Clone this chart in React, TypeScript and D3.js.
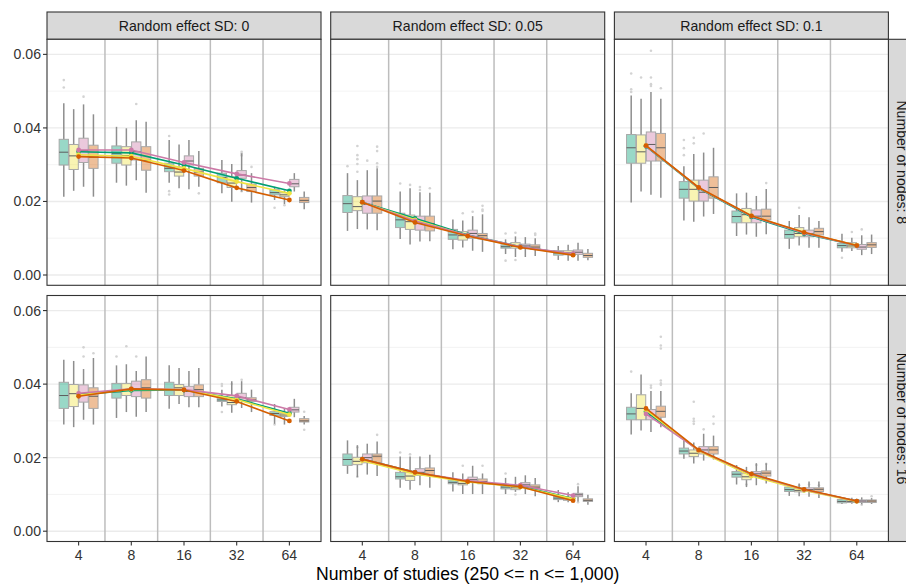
import React from 'react';
import * as d3 from 'd3';

// ---------- data ----------
const studyLabels = ['4', '8', '16', '32', '64'];
const sdLabels = ['0', '0.05', '0.1'];
const nodeLabels = ['8', '16'];
const yMajor = [0, 0.02, 0.04, 0.06];
const yMinor = [0.01, 0.03, 0.05];

// Box rows: [lower whisker, q1, median, q3, upper whisker]; 4 methods per study group, 5 groups.
const boxesSd0Nodes8 = [
  [0.0213, 0.0299, 0.0334, 0.0369, 0.0467], [0.0229, 0.0287, 0.0324, 0.0355, 0.0451], [0.0240, 0.0306, 0.0338, 0.0372, 0.0464], [0.0213, 0.0290, 0.0320, 0.0353, 0.0437],
  [0.0251, 0.0304, 0.0330, 0.0351, 0.0403], [0.0243, 0.0299, 0.0325, 0.0349, 0.0399], [0.0258, 0.0313, 0.0335, 0.0362, 0.0421], [0.0224, 0.0285, 0.0312, 0.0349, 0.0417],
  [0.0251, 0.0281, 0.0290, 0.0304, 0.0367], [0.0236, 0.0269, 0.0280, 0.0294, 0.0355], [0.0233, 0.0299, 0.0310, 0.0324, 0.0367], [0.0240, 0.0269, 0.0280, 0.0290, 0.0337],
  [0.0222, 0.0251, 0.0265, 0.0277, 0.0313], [0.0199, 0.0238, 0.0250, 0.0267, 0.0302], [0.0227, 0.0263, 0.0272, 0.0284, 0.0331], [0.0197, 0.0227, 0.0238, 0.0247, 0.0277],
  [0.0204, 0.0218, 0.0224, 0.0232, 0.0240], [0.0193, 0.0213, 0.0218, 0.0224, 0.0230], [0.0227, 0.0240, 0.0248, 0.0260, 0.0277], [0.0179, 0.0197, 0.0203, 0.0211, 0.0227],
];
const linesSd0Nodes8 = [
  [0.0335, 0.0332, 0.0299, 0.0263, 0.0229],
  [0.0327, 0.0323, 0.0290, 0.0254, 0.0222],
  [0.0340, 0.0340, 0.0306, 0.0275, 0.0249],
  [0.0322, 0.0318, 0.0284, 0.0237, 0.0204],
];
const outliersSd0Nodes8 = [
  [0, 0, 0.053], [0, 0, 0.051], [0, 2, 0.0485], [1, 2, 0.0465], [2, 0, 0.0378], [2, 0, 0.0228], [2, 0, 0.0219],
  [2, 3, 0.0222], [3, 2, 0.0325], [3, 2, 0.0330], [3, 2, 0.0335], [3, 2, 0.0228], [3, 3, 0.0294], [4, 0, 0.0183], [4, 1, 0.0190],
];

const boxesSd005Nodes8 = [
  [0.0120, 0.0170, 0.0194, 0.0216, 0.0277], [0.0125, 0.0175, 0.0186, 0.0213, 0.0258], [0.0124, 0.0168, 0.0192, 0.0215, 0.0285], [0.0122, 0.0168, 0.0201, 0.0215, 0.0290],
  [0.0098, 0.0129, 0.0150, 0.0168, 0.0227], [0.0083, 0.0124, 0.0145, 0.0163, 0.0236], [0.0091, 0.0122, 0.0140, 0.0160, 0.0225], [0.0092, 0.0120, 0.0140, 0.0160, 0.0224],
  [0.0070, 0.0097, 0.0109, 0.0124, 0.0151], [0.0075, 0.0095, 0.0107, 0.0118, 0.0148], [0.0066, 0.0100, 0.0113, 0.0122, 0.0160], [0.0063, 0.0098, 0.0107, 0.0113, 0.0165],
  [0.0057, 0.0073, 0.0077, 0.0082, 0.0097], [0.0049, 0.0073, 0.0078, 0.0088, 0.0105], [0.0049, 0.0073, 0.0079, 0.0084, 0.0103], [0.0052, 0.0070, 0.0076, 0.0082, 0.0100],
  [0.0041, 0.0054, 0.0060, 0.0066, 0.0079], [0.0039, 0.0055, 0.0060, 0.0066, 0.0082], [0.0039, 0.0056, 0.0062, 0.0068, 0.0088], [0.0040, 0.0048, 0.0053, 0.0059, 0.0071],
];
const linesSd005Nodes8 = [
  [0.0198, 0.0154, 0.0109, 0.0077, 0.0056],
  [0.0197, 0.0150, 0.0107, 0.0076, 0.0055],
  [0.0198, 0.0147, 0.0108, 0.0077, 0.0058],
  [0.0198, 0.0143, 0.0106, 0.0075, 0.0054],
];
const outliersSd005Nodes8 = [
  [0, 0, 0.0296], [0, 1, 0.0351], [0, 1, 0.0326], [0, 1, 0.0315], [0, 1, 0.0302], [0, 1, 0.0281], [0, 2, 0.0311],
  [0, 3, 0.0349], [0, 3, 0.0337], [0, 3, 0.0304], [0, 3, 0.0294], [1, 0, 0.0249], [1, 1, 0.0245], [1, 2, 0.0239], [1, 2, 0.0231], [1, 3, 0.0236],
  [2, 1, 0.0168], [2, 2, 0.0172], [2, 3, 0.0188], [2, 3, 0.0178], [2, 3, 0.0174],
  [3, 0, 0.0113], [3, 0, 0.0039], [3, 1, 0.0115], [3, 1, 0.0041], [3, 3, 0.0113], [3, 3, 0.0109],
];

const boxesSd01Nodes8 = [
  [0.0197, 0.0304, 0.0346, 0.0382, 0.0488], [0.0227, 0.0304, 0.0335, 0.0381, 0.0479], [0.0218, 0.0310, 0.0355, 0.0389, 0.0498], [0.0210, 0.0310, 0.0346, 0.0385, 0.0479],
  [0.0148, 0.0209, 0.0233, 0.0254, 0.0296], [0.0145, 0.0201, 0.0233, 0.0258, 0.0329], [0.0159, 0.0201, 0.0225, 0.0258, 0.0333], [0.0166, 0.0209, 0.0238, 0.0267, 0.0346],
  [0.0106, 0.0142, 0.0159, 0.0174, 0.0222], [0.0110, 0.0142, 0.0164, 0.0181, 0.0224], [0.0104, 0.0142, 0.0160, 0.0177, 0.0215], [0.0111, 0.0150, 0.0160, 0.0179, 0.0234],
  [0.0071, 0.0100, 0.0110, 0.0122, 0.0147], [0.0080, 0.0104, 0.0113, 0.0129, 0.0163], [0.0074, 0.0104, 0.0112, 0.0122, 0.0157], [0.0074, 0.0109, 0.0118, 0.0127, 0.0147],
  [0.0063, 0.0074, 0.0080, 0.0086, 0.0112], [0.0065, 0.0074, 0.0079, 0.0088, 0.0101], [0.0054, 0.0070, 0.0076, 0.0083, 0.0108], [0.0057, 0.0075, 0.0082, 0.0088, 0.0110],
];
const linesSd01Nodes8 = [
  [0.0350, 0.0236, 0.0158, 0.0112, 0.0080],
  [0.0352, 0.0237, 0.0161, 0.0115, 0.0081],
  [0.0351, 0.0237, 0.0160, 0.0114, 0.0080],
  [0.0352, 0.0238, 0.0161, 0.0116, 0.0080],
];
const outliersSd01Nodes8 = [
  [0, 0, 0.0548], [0, 0, 0.0505], [0, 0, 0.0498], [0, 1, 0.0537], [0, 2, 0.0610], [0, 2, 0.0537], [0, 2, 0.0519], [0, 2, 0.0514], [0, 3, 0.0508],
  [1, 0, 0.0367], [1, 0, 0.0345], [1, 0, 0.0326], [1, 1, 0.0373], [1, 1, 0.0358], [1, 2, 0.0385],
  [2, 3, 0.0250], [3, 1, 0.0183], [4, 0, 0.0047], [4, 2, 0.0124], [4, 1, 0.0117],
];

const boxesSd0Nodes16 = [
  [0.0290, 0.0334, 0.0369, 0.0405, 0.0466], [0.0283, 0.0339, 0.0374, 0.0399, 0.0463], [0.0303, 0.0351, 0.0374, 0.0398, 0.0441], [0.0290, 0.0334, 0.0367, 0.0390, 0.0471],
  [0.0308, 0.0362, 0.0379, 0.0402, 0.0451], [0.0324, 0.0369, 0.0385, 0.0402, 0.0454], [0.0311, 0.0366, 0.0387, 0.0408, 0.0436], [0.0324, 0.0362, 0.0390, 0.0412, 0.0475],
  [0.0333, 0.0369, 0.0385, 0.0405, 0.0451], [0.0346, 0.0369, 0.0390, 0.0399, 0.0444], [0.0337, 0.0366, 0.0380, 0.0394, 0.0436], [0.0337, 0.0366, 0.0385, 0.0398, 0.0444],
  [0.0339, 0.0353, 0.0357, 0.0363, 0.0385], [0.0322, 0.0344, 0.0350, 0.0369, 0.0408], [0.0335, 0.0355, 0.0363, 0.0375, 0.0408], [0.0324, 0.0353, 0.0357, 0.0363, 0.0385],
  [0.0292, 0.0315, 0.0320, 0.0325, 0.0346], [0.0290, 0.0312, 0.0316, 0.0320, 0.0335], [0.0310, 0.0324, 0.0330, 0.0337, 0.0360], [0.0290, 0.0297, 0.0300, 0.0306, 0.0313],
];
const linesSd0Nodes16 = [
  [0.0371, 0.0383, 0.0384, 0.0360, 0.0321],
  [0.0370, 0.0386, 0.0385, 0.0358, 0.0317],
  [0.0375, 0.0387, 0.0385, 0.0368, 0.0331],
  [0.0367, 0.0387, 0.0384, 0.0353, 0.0300],
];
const outliersSd0Nodes16 = [
  [0, 2, 0.0500], [0, 2, 0.0475], [0, 3, 0.0484], [1, 0, 0.0475], [1, 1, 0.0503], [1, 2, 0.0475],
  [3, 0, 0.0400], [3, 0, 0.0395], [3, 0, 0.0324], [3, 1, 0.0400], [3, 2, 0.0412], [4, 0, 0.0290], [4, 3, 0.0276], [4, 3, 0.0325],
];

const boxesSd005Nodes16 = [
  [0.0156, 0.0179, 0.0195, 0.0210, 0.0247], [0.0147, 0.0181, 0.0190, 0.0201, 0.0234], [0.0154, 0.0186, 0.0200, 0.0210, 0.0238], [0.0150, 0.0186, 0.0204, 0.0210, 0.0244],
  [0.0118, 0.0142, 0.0148, 0.0160, 0.0203], [0.0113, 0.0138, 0.0150, 0.0161, 0.0203], [0.0125, 0.0152, 0.0160, 0.0170, 0.0203], [0.0118, 0.0152, 0.0165, 0.0172, 0.0208],
  [0.0108, 0.0129, 0.0133, 0.0140, 0.0160], [0.0101, 0.0126, 0.0130, 0.0140, 0.0157], [0.0101, 0.0135, 0.0140, 0.0147, 0.0178], [0.0101, 0.0129, 0.0135, 0.0142, 0.0157],
  [0.0101, 0.0115, 0.0120, 0.0126, 0.0145], [0.0107, 0.0113, 0.0118, 0.0124, 0.0148], [0.0101, 0.0120, 0.0126, 0.0132, 0.0152], [0.0095, 0.0115, 0.0120, 0.0126, 0.0145],
  [0.0079, 0.0086, 0.0090, 0.0095, 0.0112], [0.0079, 0.0084, 0.0088, 0.0093, 0.0106], [0.0081, 0.0094, 0.0099, 0.0103, 0.0122], [0.0072, 0.0081, 0.0084, 0.0088, 0.0099],
];
const linesSd005Nodes16 = [
  [0.0196, 0.0160, 0.0135, 0.0122, 0.0089],
  [0.0192, 0.0156, 0.0134, 0.0120, 0.0088],
  [0.0196, 0.0160, 0.0137, 0.0125, 0.0097],
  [0.0196, 0.0160, 0.0135, 0.0121, 0.0083],
];
const outliersSd005Nodes16 = [
  [0, 1, 0.0228], [0, 1, 0.0148], [0, 3, 0.0262], [1, 0, 0.0214], [1, 1, 0.0209], [2, 1, 0.0178], [2, 3, 0.0178],
  [3, 0, 0.0157], [3, 1, 0.0100], [4, 2, 0.0128], [4, 2, 0.0079],
];

const boxesSd01Nodes16 = [
  [0.0263, 0.0303, 0.0319, 0.0337, 0.0375], [0.0274, 0.0303, 0.0334, 0.0371, 0.0426], [0.0270, 0.0303, 0.0315, 0.0331, 0.0381], [0.0283, 0.0310, 0.0326, 0.0340, 0.0381],
  [0.0197, 0.0210, 0.0218, 0.0226, 0.0247], [0.0184, 0.0203, 0.0212, 0.0221, 0.0241], [0.0192, 0.0210, 0.0221, 0.0230, 0.0265], [0.0195, 0.0210, 0.0221, 0.0230, 0.0260],
  [0.0127, 0.0147, 0.0155, 0.0162, 0.0180], [0.0120, 0.0140, 0.0148, 0.0158, 0.0175], [0.0125, 0.0150, 0.0156, 0.0162, 0.0185], [0.0130, 0.0150, 0.0158, 0.0164, 0.0185],
  [0.0096, 0.0108, 0.0113, 0.0120, 0.0127], [0.0095, 0.0107, 0.0111, 0.0118, 0.0130], [0.0094, 0.0108, 0.0113, 0.0118, 0.0135], [0.0090, 0.0108, 0.0114, 0.0118, 0.0135],
  [0.0074, 0.0077, 0.0081, 0.0086, 0.0090], [0.0075, 0.0078, 0.0081, 0.0085, 0.0091], [0.0073, 0.0078, 0.0082, 0.0085, 0.0092], [0.0074, 0.0078, 0.0082, 0.0085, 0.0090],
];
const linesSd01Nodes16 = [
  [0.0325, 0.0220, 0.0152, 0.0112, 0.0082],
  [0.0330, 0.0218, 0.0150, 0.0111, 0.0081],
  [0.0319, 0.0220, 0.0155, 0.0113, 0.0082],
  [0.0334, 0.0221, 0.0156, 0.0114, 0.0082],
];
const outliersSd01Nodes16 = [
  [0, 0, 0.0434], [0, 2, 0.0396], [0, 2, 0.0390], [0, 3, 0.0529], [0, 3, 0.0505], [0, 3, 0.0497], [0, 3, 0.0410], [0, 3, 0.0402], [0, 3, 0.0398],
  [1, 1, 0.0352], [1, 1, 0.0306], [1, 1, 0.0299], [1, 1, 0.0292], [1, 3, 0.0312], [1, 3, 0.0292], [1, 2, 0.0277],
  [2, 1, 0.0127], [2, 2, 0.0180], [2, 3, 0.0183], [3, 1, 0.0125], [3, 2, 0.0127], [3, 3, 0.0125], [4, 2, 0.0072], [4, 3, 0.0095],
];

const panelBoxes = [
  [boxesSd0Nodes8, boxesSd005Nodes8, boxesSd01Nodes8],
  [boxesSd0Nodes16, boxesSd005Nodes16, boxesSd01Nodes16],
];
const panelLines = [
  [linesSd0Nodes8, linesSd005Nodes8, linesSd01Nodes8],
  [linesSd0Nodes16, linesSd005Nodes16, linesSd01Nodes16],
];
const panelOutliers = [
  [outliersSd0Nodes8, outliersSd005Nodes8, outliersSd01Nodes8],
  [outliersSd0Nodes16, outliersSd005Nodes16, outliersSd01Nodes16],
];

// ---------- styles ----------
const lineColors = ['#009E73', '#F0E442', '#CC79A7', '#D55E00'];
const FONT = "'Liberation Sans', Arial, Helvetica, sans-serif";

const W = 906;
const H = 585;
const colX = [47, 330.7, 614.4];
const rowY = [39.3, 295.5];
const PW = 274;
const PH = 246;
const STRIP = 27.3;

function Panel({ r, c }: { r: number; c: number }) {
  const x0 = colX[c];
  const y0 = rowY[r];
  const x = d3.scaleLinear().domain([0.4, 5.6]).range([x0, x0 + PW]);
  const y = d3.scaleLinear().domain([-0.0028, 0.0641]).range([y0 + PH, y0]);
  const slot = x(0.1875) - x(0);
  const bw = slot * 0.94;
  const boxes = panelBoxes[r][c];
  const lines = panelLines[r][c];
  const outs = panelOutliers[r][c];
  const bx = (g: number, s: number) => x(g + 1 + (s - 1.5) * 0.1875);
  const lineGen = d3
    .line<number>()
    .x((_, i) => x(i + 1))
    .y((v) => y(v));
  return (
    <g>
      <rect x={x0} y={y0} width={PW} height={PH} fill="#fff" />
      {yMinor.map((v) => (
        <line key={'mn' + v} x1={x0} x2={x0 + PW} y1={y(v)} y2={y(v)} stroke="#F0F0F0" strokeWidth={0.8} />
      ))}
      {yMajor.map((v) => (
        <line key={'mj' + v} x1={x0} x2={x0 + PW} y1={y(v)} y2={y(v)} stroke="#EBEBEB" strokeWidth={1.4} />
      ))}
      {[1.5, 2.5, 3.5, 4.5].map((v) => (
        <line key={'vl' + v} x1={x(v)} x2={x(v)} y1={y0} y2={y0 + PH} stroke="#BDBDBD" strokeWidth={1.5} />
      ))}
      {/* outliers */}
      {outs.map((o, i) => (
        <circle key={'o' + i} cx={bx(o[0], o[1])} cy={y(o[2])} r={1.3} fill="#D3D3D3" />
      ))}
      {/* boxes */}
      {boxes.map((b, i) => {
        const g = Math.floor(i / 4);
        const s = i % 4;
        const cx = bx(g, s);
        return (
          <g key={'b' + i}>
            <line x1={cx} x2={cx} y1={y(b[4])} y2={y(b[3])} stroke="#8E8E8E" strokeWidth={1.5} />
            <line x1={cx} x2={cx} y1={y(b[1])} y2={y(b[0])} stroke="#8E8E8E" strokeWidth={1.5} />
            <rect
              x={cx - bw / 2}
              y={y(b[3])}
              width={bw}
              height={Math.max(0.5, y(b[1]) - y(b[3]))}
              fill={lineColors[s]}
              fillOpacity={0.4}
              stroke="#A8A8A8"
              strokeWidth={1}
            />
            <line x1={cx - bw / 2} x2={cx + bw / 2} y1={y(b[2])} y2={y(b[2])} stroke="#5E5E5E" strokeWidth={1} />
          </g>
        );
      })}
      {/* mean lines */}
      {lines.map((vals, s) => (
        <g key={'l' + s}>
          <path d={lineGen(vals) || ''} fill="none" stroke={lineColors[s]} strokeWidth={1.6} />
          {vals.map((v, i) => (
            <circle key={i} cx={x(i + 1)} cy={y(v)} r={2.4} fill={lineColors[s]} />
          ))}
        </g>
      ))}
      <rect x={x0} y={y0} width={PW} height={PH} fill="none" stroke="#333333" strokeWidth={1.1} />
      {/* y axis on first column */}
      {c === 0 &&
        yMajor.map((v) => (
          <g key={'yt' + v}>
            <line x1={x0 - 4} x2={x0} y1={y(v)} y2={y(v)} stroke="#333" strokeWidth={1.1} />
            <text x={x0 - 6} y={y(v) + 5} textAnchor="end" fontSize={14.1} fill="#333" fontFamily={FONT}>
              {d3.format('.2f')(v)}
            </text>
          </g>
        ))}
      {/* x axis on bottom row */}
      {r === 1 &&
        studyLabels.map((lab, i) => (
          <g key={'xt' + lab}>
            <line x1={x(i + 1)} x2={x(i + 1)} y1={y0 + PH} y2={y0 + PH + 4} stroke="#333" strokeWidth={1.1} />
            <text x={x(i + 1)} y={y0 + PH + 18.2} textAnchor="middle" fontSize={14.1} fill="#333" fontFamily={FONT}>
              {lab}
            </text>
          </g>
        ))}
    </g>
  );
}

export default function App() {
  return (
    <svg
      width={W}
      height={H}
      viewBox={`0 0 ${W} ${H}`}
      style={{ position: 'absolute', left: 0, top: 0, background: '#fff' }}
    >
      <rect x={0} y={0} width={W} height={H} fill="#fff" />
      {sdLabels.map((sd, c) => (
        <g key={'st' + sd}>
          <rect x={colX[c]} y={rowY[0] - STRIP} width={PW} height={STRIP} fill="#D9D9D9" stroke="#333" strokeWidth={1.1} />
          <text
            x={colX[c] + PW / 2}
            y={rowY[0] - STRIP / 2 + 5.1}
            textAnchor="middle"
            fontSize={14.1}
            fill="#1A1A1A"
            fontFamily={FONT}
          >
            {`Random effect SD: ${sd}`}
          </text>
        </g>
      ))}
      {nodeLabels.map((nd, r) => {
        const sx = colX[2] + PW;
        const cy = rowY[r] + PH / 2;
        return (
          <g key={'rs' + nd}>
            <rect x={sx} y={rowY[r]} width={STRIP} height={PH} fill="#D9D9D9" stroke="#333" strokeWidth={1.1} />
            <text
              transform={`translate(${sx + STRIP / 2 - 5.1},${cy}) rotate(90)`}
              textAnchor="middle"
              fontSize={14.1}
              fill="#1A1A1A"
              fontFamily={FONT}
            >
              {`Number of nodes: ${nd}`}
            </text>
          </g>
        );
      })}
      {[0, 1].map((r) => [0, 1, 2].map((c) => <Panel key={`${r}-${c}`} r={r} c={c} />))}
      <text
        x={(colX[0] + colX[2] + PW) / 2}
        y={580}
        textAnchor="middle"
        fontSize={17.6}
        fill="#000"
        fontFamily={FONT}
      >
        Number of studies (250 &lt;= n &lt;= 1,000)
      </text>
    </svg>
  );
}
